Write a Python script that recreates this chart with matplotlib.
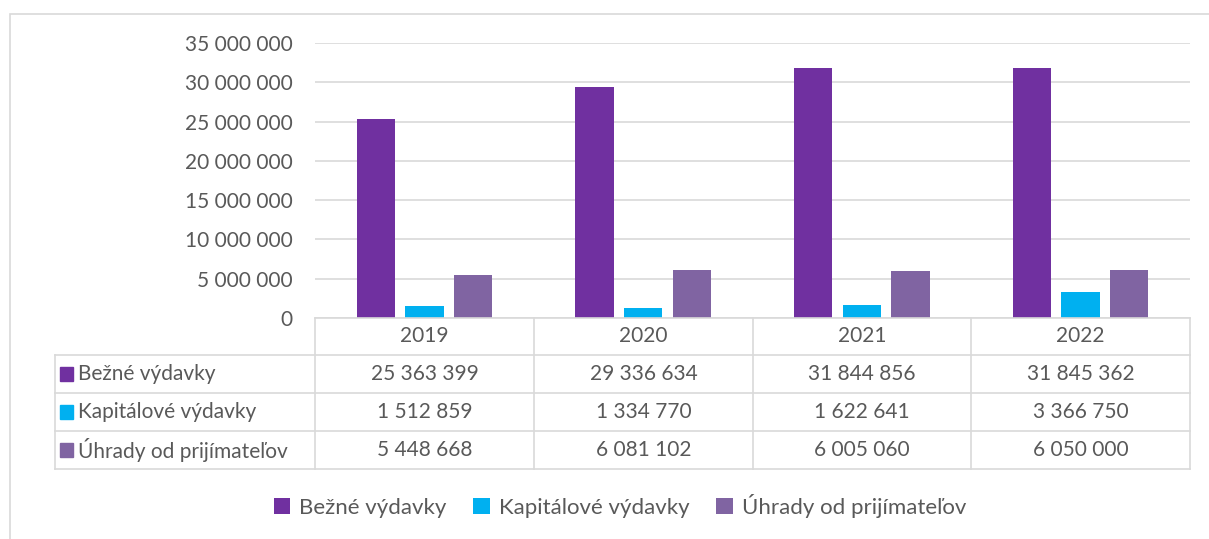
import numpy as np
import matplotlib.pyplot as plt
from matplotlib.lines import Line2D
from matplotlib.patches import Rectangle

years = ['2019', '2020', '2021', '2022']
series = ['Bežné výdavky', 'Kapitálové výdavky', 'Úhrady od prijímateľov']
bezne = [25363399, 29336634, 31844856, 31845362]
kapital = [1512859, 1334770, 1622641, 3366750]
uhrady = [5448668, 6081102, 6005060, 6050000]
colors = ['#7030A0', '#00B0F0', '#8064A2']

W, H = 1209, 539
grid_c = '#D9D9D9'
text_c = '#595959'
plt.rcParams['font.family'] = ['Lato', 'DejaVu Sans']
fs = 15


def fx(px):
    return px / W


def fy(py):
    return 1 - py / H


def fmt(v):
    return f'{v:,}'.replace(',', ' ')


fig = plt.figure(figsize=(W / 100, H / 100), dpi=100)

# outer chart border
fig.add_artist(Rectangle((fx(10), fy(600)), fx(1300), fy(14) - fy(600),
                         transform=fig.transFigure, fill=False,
                         edgecolor=grid_c, linewidth=1.2))

x_left, x_right, y_zero, y_top = 315, 1190, 318, 43
ax = fig.add_axes([fx(x_left), fy(y_zero), fx(x_right - x_left), fy(y_top) - fy(y_zero)])

x = np.arange(len(years))
bw = 0.175
off = 0.222
bars = []
for i, (vals, c) in enumerate(zip([bezne, kapital, uhrady], colors)):
    bars.append(ax.bar(x + (i - 1) * off, vals, bw, color=c, zorder=3))

ax.set_xlim(-0.5, 3.5)
ax.set_ylim(0, 35000000)
ax.set_yticks(np.arange(0, 35000001, 5000000))
ax.yaxis.set_major_formatter(plt.FuncFormatter(lambda v, p: fmt(int(v))))
ax.set_xticks([])
ax.tick_params(axis='y', length=0, pad=16, labelsize=fs, labelcolor=text_c)
ax.grid(axis='y', color=grid_c, linewidth=1.2, zorder=0)
for s in ax.spines.values():
    s.set_visible(False)

# data table below the plot
col_x = [315, 534, 753, 971, 1190]
row_y = [318, 355, 393, 431, 469]


def hline(y, x0, x1):
    fig.add_artist(Line2D([fx(x0), fx(x1)], [fy(y), fy(y)], transform=fig.transFigure,
                          color=grid_c, linewidth=1.2))


def vline(xp, y0, y1):
    fig.add_artist(Line2D([fx(xp), fx(xp)], [fy(y0), fy(y1)], transform=fig.transFigure,
                          color=grid_c, linewidth=1.2))


hline(row_y[0], col_x[0], col_x[-1])
for yy in row_y[1:]:
    hline(yy, 55, col_x[-1])
vline(55, row_y[1], row_y[-1])
for xx in col_x:
    vline(xx, row_y[0], row_y[-1])

for j, yr in enumerate(years):
    cx = (col_x[j] + col_x[j + 1]) / 2
    fig.text(fx(cx), fy((row_y[0] + row_y[1]) / 2), yr, ha='center', va='center',
             fontsize=fs, color=text_c)

for i, (name, vals, c) in enumerate(zip(series, [bezne, kapital, uhrady], colors)):
    cy = (row_y[i + 1] + row_y[i + 2]) / 2
    fig.add_artist(Rectangle((fx(60), fy(cy + 6.5)), fx(13), fy(cy - 6.5) - fy(cy + 6.5),
                             transform=fig.transFigure, color=c))
    fig.text(fx(78), fy(cy), name, ha='left', va='center', fontsize=fs, color=text_c)
    for j, v in enumerate(vals):
        cx = (col_x[j] + col_x[j + 1]) / 2
        fig.text(fx(cx), fy(cy), fmt(v), ha='center', va='center', fontsize=fs, color=text_c)

fig.legend([b[0] for b in bars], series, loc='center', bbox_to_anchor=(fx(620), fy(506)),
           ncol=3, frameon=False, fontsize=16, labelcolor=text_c,
           handlelength=0.75, handleheight=0.75, handletextpad=0.4, columnspacing=1.2)

fig.savefig('out.png', dpi=100)
